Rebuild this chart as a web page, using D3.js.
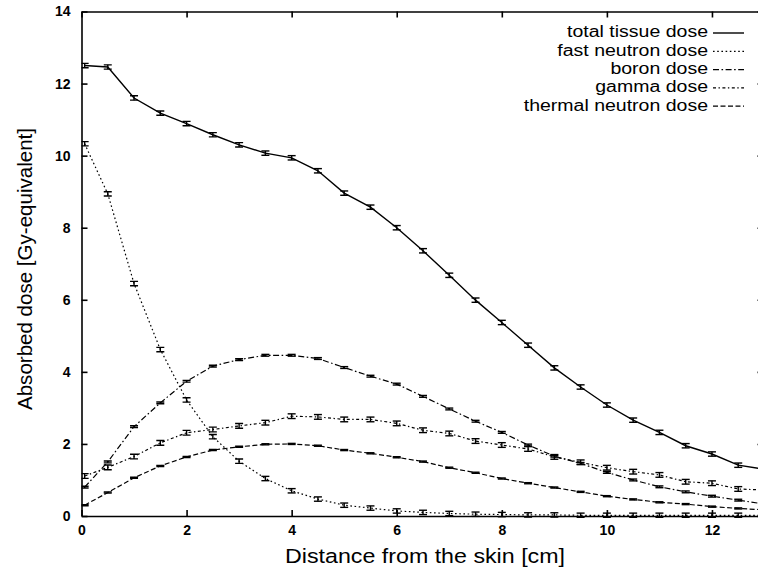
<!DOCTYPE html>
<html>
<head>
<meta charset="utf-8">
<script src="https://cdn.jsdelivr.net/npm/d3@7"></script>
<style>
  html, body { margin: 0; padding: 0; background: #fff; }
  svg { display: block; font-family: "Liberation Sans", Arial, Helvetica, sans-serif; }
</style>
</head>
<body>
<svg id="chart" width="758" height="571"></svg>
<script>
// ---------------- data ----------------
const distance = [0.06, 0.5, 1, 1.5, 2, 2.5, 3, 3.5, 4, 4.5, 5, 5.5, 6, 6.5, 7, 7.5, 8, 8.5, 9, 9.5, 10, 10.5, 11, 11.5, 12, 12.5, 13];
const totalDose = [12.5, 12.46, 11.6, 11.18, 10.89, 10.58, 10.3, 10.07, 9.94, 9.58, 8.96, 8.57, 8.0, 7.36, 6.68, 5.99, 5.37, 4.74, 4.11, 3.58, 3.08, 2.66, 2.32, 1.95, 1.72, 1.41, 1.3];
const fastNeutronDose = [10.33, 8.94, 6.45, 4.62, 3.22, 2.2, 1.52, 1.04, 0.7, 0.47, 0.3, 0.22, 0.14, 0.1, 0.07, 0.05, 0.04, 0.03, 0.03, 0.02, 0.02, 0.02, 0.02, 0.02, 0.02, 0.02, 0.02];
const boronDose = [0.8, 1.5, 2.48, 3.14, 3.74, 4.16, 4.34, 4.46, 4.46, 4.37, 4.12, 3.88, 3.66, 3.32, 2.97, 2.63, 2.32, 1.97, 1.66, 1.46, 1.21, 1.0, 0.81, 0.67, 0.55, 0.44, 0.33];
const gammaDose = [1.11, 1.35, 1.65, 2.03, 2.31, 2.4, 2.5, 2.59, 2.77, 2.75, 2.68, 2.68, 2.57, 2.38, 2.29, 2.08, 1.97, 1.86, 1.64, 1.49, 1.34, 1.23, 1.14, 0.95, 0.91, 0.75, 0.72];
const thermalNeutronDose = [0.3, 0.65, 1.06, 1.39, 1.64, 1.83, 1.92, 1.99, 2.0, 1.95, 1.83, 1.74, 1.63, 1.51, 1.34, 1.2, 1.04, 0.91, 0.79, 0.67, 0.55, 0.46, 0.38, 0.33, 0.26, 0.21, 0.17];
const seriesNames = ["total tissue dose", "fast neutron dose", "boron dose", "gamma dose", "thermal neutron dose"];
const seriesErrors = [0.06, 0.06, 0.025, 0.065, 0.015];
const xTicks = [0, 2, 4, 6, 8, 10, 12];
const yTicks = [0, 2, 4, 6, 8, 10, 12, 14];
const xLabel = "Distance from the skin [cm]";
const yLabel = "Absorbed dose [Gy-equivalent]";

// ---------------- styles ----------------
const dashes = [null, "1.6,2.6", "6,2.5,1.6,2.5", "3,2.5,1.4,2.5", "5,2.5"];
const widths = [1.4, 1.2, 1.2, 1.2, 1.2];

const svg = d3.select("#chart");
const x = d3.scaleLinear().domain([0, 13]).range([81.5, 764.5]);
const y = d3.scaleLinear().domain([0, 14]).range([516, 11.5]);

const seriesValues = [totalDose, fastNeutronDose, boronDose, gammaDose, thermalNeutronDose];

// ---------------- axes ----------------
const tickFont = g => g.selectAll("text")
  .attr("font-size", 14).attr("font-weight", "bold").attr("fill", "#000")
  .attr("font-family", "'Liberation Sans', Arial, sans-serif");

svg.append("g").attr("transform", `translate(0,${y(0)})`)
  .call(d3.axisBottom(x).tickValues(xTicks).tickFormat(d3.format("d")).tickSizeInner(-6).tickSizeOuter(0).tickPadding(9))
  .call(tickFont)
  .call(g => g.selectAll("path,line").attr("stroke", "#000").attr("stroke-width", 1.6));

svg.append("g").attr("transform", `translate(0,${y(14)})`)
  .call(d3.axisTop(x).tickValues(xTicks).tickFormat("").tickSizeInner(-6).tickSizeOuter(0))
  .call(g => g.selectAll("path,line").attr("stroke", "#000").attr("stroke-width", 1.6));

svg.append("g").attr("transform", `translate(${x(0)},0)`)
  .call(d3.axisLeft(y).tickValues(yTicks).tickFormat(d3.format("d")).tickSizeInner(-6).tickSizeOuter(0).tickPadding(11))
  .call(tickFont)
  .call(g => g.selectAll("path,line").attr("stroke", "#000").attr("stroke-width", 1.6));

svg.append("g").attr("transform", `translate(${x(13)},0)`)
  .call(d3.axisRight(y).tickValues(yTicks).tickFormat("").tickSizeInner(-7).tickSizeOuter(0))
  .call(g => g.selectAll("path,line").attr("stroke", "#000").attr("stroke-width", 1.6));

// axis titles
svg.append("text")
  .attr("x", 425).attr("y", 563)
  .attr("text-anchor", "middle")
  .attr("font-size", 20.5)
  .attr("textLength", 280).attr("lengthAdjust", "spacingAndGlyphs")
  .text(xLabel);

svg.append("text")
  .attr("transform", "translate(32,269) rotate(-90)")
  .attr("text-anchor", "middle")
  .attr("font-size", 21)
  .attr("textLength", 282).attr("lengthAdjust", "spacingAndGlyphs")
  .text(yLabel);

// ---------------- series ----------------
svg.append("clipPath").attr("id", "plotclip")
  .append("rect").attr("x", x(0)).attr("y", 0).attr("width", x(13) - x(0)).attr("height", y(0) + 2);

const plot = svg.append("g").attr("clip-path", "url(#plotclip)");
const line = d3.line().x(d => x(d[0])).y(d => y(d[1]));

seriesValues.forEach((vals, i) => {
  const pts = distance.map((d, j) => [d, vals[j]]);
  plot.append("path")
    .datum(pts)
    .attr("fill", "none")
    .attr("stroke", "#000")
    .attr("stroke-width", widths[i])
    .attr("stroke-dasharray", dashes[i])
    .attr("d", line);

  const e = seriesErrors[i];
  const eg = plot.append("g").attr("stroke", "#000").attr("stroke-width", 1.4);
  pts.forEach(p => {
    const cx = x(p[0]), y1 = y(p[1] + e), y2 = y(p[1] - e);
    eg.append("line").attr("x1", cx).attr("x2", cx).attr("y1", y1).attr("y2", y2);
    eg.append("line").attr("x1", cx - 4).attr("x2", cx + 4).attr("y1", y1).attr("y2", y1);
    eg.append("line").attr("x1", cx - 4).attr("x2", cx + 4).attr("y1", y2).attr("y2", y2);
  });
});

// ---------------- legend ----------------
const legend = svg.append("g");
seriesNames.forEach((name, i) => {
  const ly = 32 + i * 18.3;
  const t = legend.append("text")
    .attr("x", 708).attr("y", ly)
    .attr("dy", "0.35em")
    .attr("text-anchor", "end")
    .attr("font-size", 19.5)
    .text(name);
  // keep the reference width with a glyph box that fits the row pitch
  const w = t.node().getComputedTextLength();
  t.attr("font-size", 15.6)
   .attr("textLength", w)
   .attr("lengthAdjust", "spacingAndGlyphs");
  legend.append("line")
    .attr("x1", 713).attr("x2", 744)
    .attr("y1", ly + 1).attr("y2", ly + 1)
    .attr("stroke", "#000")
    .attr("stroke-width", widths[i])
    .attr("stroke-dasharray", dashes[i]);
});
</script>
</body>
</html>
